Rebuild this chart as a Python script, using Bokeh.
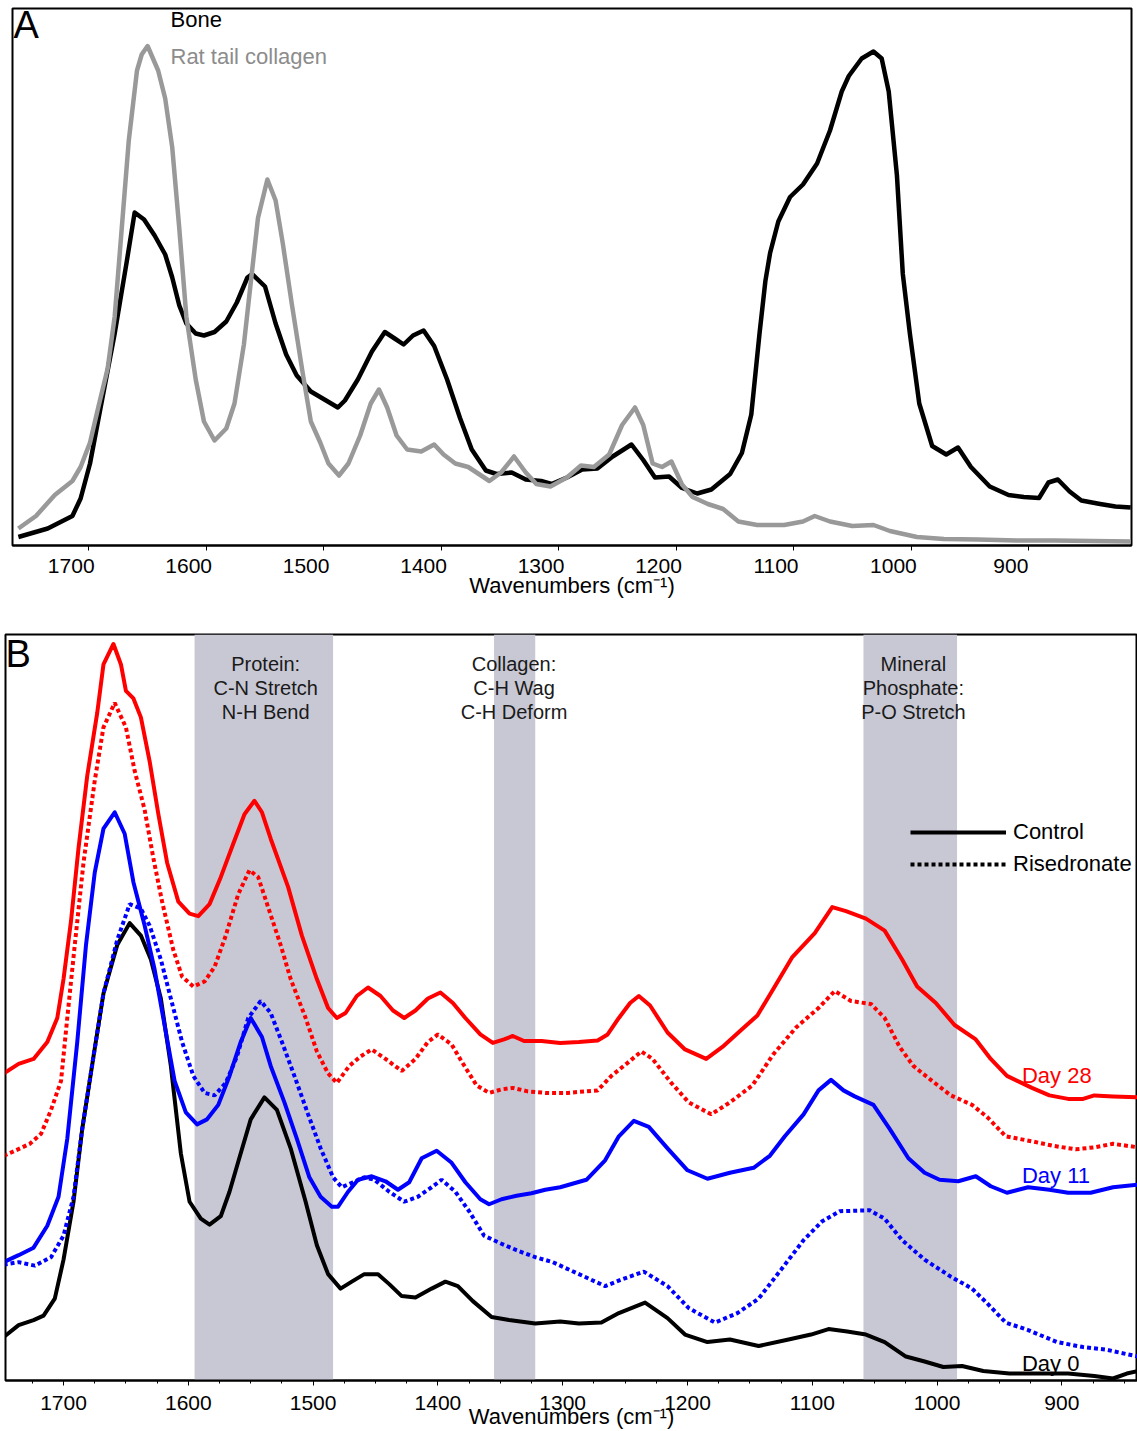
from bokeh.plotting import figure
from bokeh.models import (FixedTicker, LinearAxis, CustomJSTickFormatter, Label, Legend,
                          LegendItem, BoxAnnotation, Range1d)
from bokeh.embed import file_html
from bokeh.resources import INLINE

FONT = "Liberation Sans"

# ---------------- Panel A data (wavenumber, absorbance a.u.) ----------------
wn_bone = [1760, 1735, 1714, 1707, 1699, 1690, 1678, 1668, 1661, 1653, 1644, 1635, 1629, 1623, 1617,
           1609, 1602, 1593, 1583, 1574, 1565, 1561, 1550, 1541, 1532, 1523, 1511, 1498, 1488, 1482,
           1471, 1459, 1448, 1439, 1432, 1424, 1415, 1406, 1395, 1384, 1374, 1362, 1353, 1340, 1328,
           1315, 1306, 1293, 1280, 1267, 1254, 1238, 1228, 1218, 1206, 1195, 1182, 1170, 1154, 1144,
           1136, 1129, 1124, 1120, 1113, 1103, 1092, 1080, 1069, 1059, 1053, 1042, 1032, 1025, 1019,
           1012, 1007, 1001, 993, 982, 970, 960, 949, 933, 917, 904, 891, 883, 875, 865,
           855, 839, 826, 813]
ab_bone = [0.017, 0.034, 0.059, 0.094, 0.164, 0.276, 0.424, 0.564, 0.666, 0.652, 0.620, 0.582, 0.536, 0.480, 0.444,
           0.424, 0.420, 0.427, 0.448, 0.486, 0.536, 0.543, 0.518, 0.444, 0.382, 0.340, 0.308, 0.290, 0.276, 0.290,
           0.332, 0.388, 0.427, 0.413, 0.402, 0.420, 0.430, 0.399, 0.332, 0.255, 0.192, 0.150, 0.143, 0.146, 0.132,
           0.129, 0.123, 0.136, 0.152, 0.154, 0.178, 0.202, 0.171, 0.136, 0.138, 0.115, 0.104, 0.112, 0.143, 0.185,
           0.262, 0.424, 0.529, 0.585, 0.648, 0.697, 0.722, 0.764, 0.830, 0.908, 0.939, 0.974, 0.988, 0.974, 0.908,
           0.740, 0.543, 0.424, 0.284, 0.199, 0.182, 0.196, 0.157, 0.118, 0.101, 0.097, 0.095, 0.126, 0.132, 0.108,
           0.090, 0.083, 0.078, 0.076]

wn_coll = [1760, 1745, 1729, 1714, 1707, 1699, 1692, 1684, 1678, 1672, 1666, 1659, 1655, 1650, 1641,
           1635, 1629, 1623, 1617, 1609, 1602, 1593, 1583, 1576, 1568, 1562, 1556, 1548, 1541, 1535,
           1527, 1518, 1511, 1503, 1496, 1487, 1479, 1469, 1460, 1453, 1446, 1438, 1429, 1417, 1406,
           1398, 1388, 1377, 1368, 1359, 1349, 1338, 1328, 1319, 1307, 1293, 1281, 1270, 1257, 1246,
           1235, 1228, 1220, 1212, 1204, 1195, 1186, 1173, 1160, 1147, 1131, 1108, 1092, 1082, 1069,
           1050, 1032, 1018, 995, 972, 943, 910, 878, 813]
ab_coll = [0.034, 0.059, 0.101, 0.129, 0.157, 0.206, 0.276, 0.354, 0.458, 0.634, 0.810, 0.950, 0.982, 0.999, 0.950,
           0.894, 0.796, 0.634, 0.458, 0.332, 0.248, 0.210, 0.234, 0.284, 0.402, 0.529, 0.655, 0.732, 0.690, 0.606,
           0.480, 0.346, 0.248, 0.206, 0.164, 0.140, 0.164, 0.220, 0.284, 0.312, 0.276, 0.220, 0.192, 0.188, 0.202,
           0.182, 0.164, 0.157, 0.143, 0.129, 0.146, 0.178, 0.146, 0.123, 0.118, 0.136, 0.160, 0.157, 0.182, 0.241,
           0.276, 0.241, 0.164, 0.157, 0.168, 0.122, 0.097, 0.083, 0.073, 0.048, 0.041, 0.041, 0.048, 0.059, 0.048,
           0.039, 0.041, 0.029, 0.017, 0.013, 0.012, 0.010, 0.010, 0.008]

# ---------------- Panel B data ----------------
wn_d28_ctl = [1748, 1736, 1724, 1713, 1705, 1700, 1694, 1688, 1681, 1673, 1668, 1660, 1654, 1650, 1644,
              1638, 1631, 1624, 1617, 1608, 1599, 1592, 1583, 1574, 1564, 1555, 1547, 1541, 1534, 1520,
              1509, 1497, 1488, 1481, 1474, 1465, 1456, 1446, 1436, 1427, 1418, 1408, 1398, 1388, 1378,
              1366, 1356, 1347, 1340, 1331, 1317, 1302, 1287, 1272, 1264, 1255, 1246, 1239, 1230, 1216,
              1202, 1185, 1172, 1157, 1144, 1131, 1116, 1098, 1084, 1073, 1057, 1042, 1028, 1016, 1001,
              986, 969, 957, 944, 924, 910, 895, 883, 874, 859, 839]
ab_d28_ctl = [0.619, 0.638, 0.648, 0.682, 0.730, 0.808, 0.924, 1.070, 1.215, 1.341, 1.438, 1.479, 1.438, 1.385, 1.370,
              1.332, 1.244, 1.138, 1.041, 0.963, 0.939, 0.934, 0.958, 1.012, 1.079, 1.138, 1.165, 1.142, 1.089, 0.992,
              0.895, 0.808, 0.750, 0.730, 0.740, 0.774, 0.791, 0.774, 0.745, 0.730, 0.745, 0.769, 0.781, 0.760, 0.730,
              0.697, 0.680, 0.687, 0.694, 0.684, 0.684, 0.680, 0.682, 0.685, 0.697, 0.730, 0.760, 0.774, 0.755, 0.701,
              0.667, 0.648, 0.672, 0.706, 0.735, 0.789, 0.852, 0.900, 0.952, 0.944, 0.929, 0.905, 0.847, 0.793, 0.760,
              0.716, 0.687, 0.648, 0.614, 0.590, 0.575, 0.568, 0.568, 0.575, 0.573, 0.571]

wn_d28_ris = [1748, 1739, 1727, 1718, 1710, 1702, 1697, 1691, 1684, 1675, 1668, 1659, 1650, 1643, 1635,
              1628, 1621, 1612, 1605, 1596, 1587, 1579, 1570, 1560, 1551, 1544, 1535, 1526, 1518, 1506,
              1497, 1488, 1481, 1471, 1462, 1453, 1442, 1429, 1418, 1408, 1400, 1389, 1381, 1369, 1359,
              1349, 1340, 1328, 1314, 1296, 1287, 1272, 1261, 1249, 1237, 1228, 1213, 1199, 1181, 1166,
              1148, 1131, 1113, 1095, 1082, 1069, 1053, 1042, 1030, 1019, 1004, 989, 972, 960, 945,
              924, 907, 889, 874, 859, 839]
ab_d28_ris = [0.454, 0.464, 0.478, 0.498, 0.546, 0.604, 0.730, 0.876, 1.041, 1.205, 1.312, 1.361, 1.312, 1.225, 1.147,
              1.050, 0.963, 0.866, 0.813, 0.793, 0.803, 0.832, 0.895, 0.978, 1.026, 1.012, 0.944, 0.876, 0.808, 0.730,
              0.663, 0.619, 0.600, 0.634, 0.653, 0.667, 0.648, 0.624, 0.648, 0.682, 0.697, 0.677, 0.643, 0.595, 0.580,
              0.587, 0.590, 0.583, 0.580, 0.580, 0.582, 0.585, 0.614, 0.638, 0.663, 0.648, 0.600, 0.561, 0.537, 0.561,
              0.595, 0.658, 0.711, 0.750, 0.784, 0.764, 0.758, 0.730, 0.672, 0.634, 0.604, 0.575, 0.556, 0.532, 0.493,
              0.483, 0.474, 0.467, 0.471, 0.478, 0.471]

wn_d11_ctl = [1748, 1736, 1724, 1713, 1704, 1697, 1689, 1682, 1675, 1668, 1659, 1651, 1644, 1635, 1627,
              1618, 1611, 1602, 1593, 1585, 1576, 1567, 1558, 1550, 1541, 1534, 1523, 1513, 1503, 1494,
              1485, 1480, 1472, 1464, 1453, 1442, 1432, 1423, 1413, 1401, 1389, 1378, 1366, 1359, 1349,
              1337, 1325, 1314, 1302, 1281, 1266, 1255, 1243, 1231, 1216, 1200, 1184, 1166, 1147, 1134,
              1122, 1107, 1095, 1085, 1075, 1066, 1051, 1038, 1023, 1010, 998, 983, 969, 957, 944,
              927, 910, 895, 877, 859, 839]
ab_d11_ctl = [0.241, 0.255, 0.270, 0.314, 0.372, 0.488, 0.682, 0.876, 1.021, 1.109, 1.142, 1.099, 1.002, 0.915, 0.827,
              0.701, 0.604, 0.541, 0.517, 0.527, 0.556, 0.614, 0.682, 0.730, 0.692, 0.634, 0.561, 0.488, 0.411, 0.372,
              0.352, 0.352, 0.382, 0.406, 0.413, 0.403, 0.386, 0.401, 0.449, 0.464, 0.440, 0.401, 0.367, 0.357, 0.367,
              0.374, 0.379, 0.386, 0.391, 0.406, 0.445, 0.493, 0.524, 0.512, 0.469, 0.425, 0.408, 0.420, 0.430, 0.454,
              0.493, 0.537, 0.585, 0.606, 0.585, 0.573, 0.556, 0.508, 0.449, 0.420, 0.406, 0.403, 0.413, 0.393, 0.380,
              0.391, 0.386, 0.380, 0.380, 0.391, 0.396]

wn_d11_ris = [1748, 1736, 1723, 1710, 1700, 1692, 1685, 1676, 1668, 1657, 1647, 1638, 1631, 1622, 1614,
              1605, 1596, 1587, 1579, 1570, 1561, 1552, 1542, 1534, 1525, 1515, 1504, 1494, 1484, 1477,
              1468, 1459, 1451, 1439, 1427, 1416, 1405, 1397, 1386, 1375, 1363, 1351, 1337, 1322, 1308,
              1287, 1266, 1252, 1235, 1216, 1199, 1178, 1160, 1143, 1125, 1107, 1092, 1078, 1054, 1042,
              1028, 1010, 989, 972, 960, 945, 927, 904, 883, 865, 839]
ab_d11_ris = [0.236, 0.241, 0.234, 0.251, 0.294, 0.372, 0.508, 0.653, 0.779, 0.886, 0.958, 0.949, 0.915, 0.847, 0.769,
              0.682, 0.614, 0.580, 0.575, 0.600, 0.653, 0.730, 0.764, 0.740, 0.682, 0.614, 0.537, 0.469, 0.411, 0.391,
              0.401, 0.411, 0.406, 0.382, 0.362, 0.372, 0.391, 0.406, 0.382, 0.343, 0.294, 0.280, 0.265, 0.251, 0.241,
              0.217, 0.193, 0.207, 0.222, 0.193, 0.149, 0.120, 0.139, 0.168, 0.226, 0.285, 0.323, 0.343, 0.345, 0.328,
              0.285, 0.246, 0.212, 0.188, 0.159, 0.120, 0.105, 0.081, 0.071, 0.066, 0.052]

wn_d0_ctl = [1748, 1736, 1724, 1716, 1707, 1700, 1692, 1685, 1676, 1668, 1657, 1647, 1638, 1630, 1622,
             1614, 1606, 1599, 1590, 1583, 1574, 1567, 1558, 1550, 1539, 1529, 1518, 1506, 1497, 1488,
             1478, 1469, 1459, 1448, 1439, 1429, 1418, 1405, 1394, 1384, 1372, 1357, 1343, 1322, 1302,
             1287, 1269, 1255, 1234, 1216, 1202, 1184, 1166, 1143, 1119, 1101, 1087, 1072, 1057, 1042,
             1025, 1010, 995, 980, 963, 942, 921, 895, 874, 859, 848, 839]
ab_d0_ctl = [0.091, 0.115, 0.125, 0.134, 0.168, 0.246, 0.362, 0.508, 0.653, 0.779, 0.876, 0.920, 0.895, 0.847, 0.769,
             0.634, 0.459, 0.362, 0.328, 0.316, 0.333, 0.382, 0.459, 0.527, 0.571, 0.546, 0.469, 0.362, 0.275, 0.217,
             0.188, 0.202, 0.217, 0.217, 0.197, 0.173, 0.170, 0.188, 0.202, 0.193, 0.163, 0.131, 0.125, 0.118, 0.122,
             0.118, 0.120, 0.139, 0.160, 0.129, 0.096, 0.081, 0.086, 0.073, 0.086, 0.096, 0.107, 0.102, 0.096, 0.081,
             0.052, 0.042, 0.031, 0.033, 0.023, 0.018, 0.018, 0.018, 0.013, 0.008, 0.018, 0.023]

band_left = [1595, 1355, 1059]
band_right = [1484, 1322, 984]
band_center = [1538, 1339, 1019]
band_texts = [["Protein:", "C-N Stretch", "N-H Bend"],
              ["Collagen:", "C-H Wag", "C-H Deform"],
              ["Mineral", "Phosphate:", "P-O Stretch"]]
day_labels = ["Day 28", "Day 11", "Day 0"]
day_label_y = [0.614, 0.414, 0.038]
day_colors = ["red", "blue", "black"]
major_ticks = [1700, 1600, 1500, 1400, 1300, 1200, 1100, 1000, 900]
minor_ticks_b = [v for v in range(1725, 849, -25) if v % 100 != 0]
XTITLE = "Wavenumbers (cm\u207b\u00b9)"

# ====================== Panel A ======================
pa = figure(width=1137, height=600, x_range=Range1d(1765, 812.3), y_range=Range1d(0, 1.074),
            output_backend="svg", toolbar_location=None, y_axis_location=None,
            min_border_left=12, min_border_right=6, min_border_top=8, min_border_bottom=55)
pa.grid.visible = False
pa.outline_line_color = "black"
pa.outline_line_width = 2

ax1 = pa.xaxis[0]
ax1.ticker = FixedTicker(ticks=major_ticks)
ax1.major_tick_out = 5
ax1.major_tick_in = 0
ax1.minor_tick_out = 0
ax1.minor_tick_in = 0
ax1.major_label_text_font_size = "1px"
ax1.major_label_text_color = None
ax1.major_label_standoff = 0
ax1.axis_line_width = 2
ax1.major_tick_line_color = "black"

LABEL_SHIFT = 15
ax2 = LinearAxis(ticker=FixedTicker(ticks=[t + LABEL_SHIFT for t in major_ticks]),
                 formatter=CustomJSTickFormatter(code="return String(Math.round(tick - %d))" % LABEL_SHIFT),
                 major_tick_out=0, major_tick_in=0, minor_tick_out=0, minor_tick_in=0,
                 axis_line_color=None, major_label_standoff=8,
                 major_label_text_font=FONT, major_label_text_font_size="21px",
                 major_label_text_color="black",
                 axis_label=XTITLE, axis_label_text_font=FONT, axis_label_text_font_size="22px",
                 axis_label_text_font_style="normal", axis_label_text_color="black",
                 axis_label_standoff=-3)
pa.add_layout(ax2, "below")

pa.line(wn_bone, ab_bone, line_color="black", line_width=4.5, line_join="round")
pa.line(wn_coll, ab_coll, line_color="#999999", line_width=4.5, line_join="round")

pa.add_layout(Label(x=1, y=521, x_units="screen", y_units="screen", text="A", text_color="black",
                    text_font=FONT, text_font_size="38px", text_baseline="alphabetic"))
pa.add_layout(Label(x=158, y=526, x_units="screen", y_units="screen", text="Bone", text_color="black",
                    text_font=FONT, text_font_size="22px", text_baseline="alphabetic"))
pa.add_layout(Label(x=158, y=489, x_units="screen", y_units="screen", text="Rat tail collagen",
                    text_font=FONT, text_font_size="22px", text_color="#8c8c8c",
                    text_baseline="alphabetic"))

# ====================== Panel B ======================
pb = figure(width=1137, height=831, x_range=Range1d(1746.5, 839.4), y_range=Range1d(0.004, 1.498),
            output_backend="svg", toolbar_location=None, y_axis_location=None,
            min_border_left=5, min_border_right=0, min_border_top=34, min_border_bottom=50)
pb.grid.visible = False
pb.outline_line_color = "black"
pb.outline_line_width = 2

bx = pb.xaxis[0]
bx.ticker = FixedTicker(ticks=major_ticks, minor_ticks=minor_ticks_b)
bx.major_tick_out = 5
bx.major_tick_in = 0
bx.minor_tick_out = 3
bx.minor_tick_in = 0
bx.axis_line_width = 2
bx.major_tick_line_color = "black"
bx.minor_tick_line_color = "black"
bx.major_label_standoff = 10
bx.major_label_text_font = FONT
bx.major_label_text_font_size = "21px"
bx.major_label_text_color = "black"
bx.axis_label = XTITLE
bx.axis_label_text_font = FONT
bx.axis_label_text_font_size = "22px"
bx.axis_label_text_font_style = "normal"
bx.axis_label_text_color = "black"
bx.axis_label_standoff = -9

for l, r in zip(band_left, band_right):
    pb.add_layout(BoxAnnotation(left=l, right=r, fill_color="#c8c8d4", fill_alpha=1.0,
                                line_color=None, level="underlay"))

for cx, lines in zip(band_center, band_texts):
    for i, t in enumerate(lines):
        pb.add_layout(Label(x=cx, y=1.438 - 0.048 * i, text=t, text_font=FONT, text_font_size="20px",
                            text_align="center", text_baseline="alphabetic", text_color="#1a1a1a"))

DOT = "4 3"
pb.line(wn_d0_ctl, ab_d0_ctl, line_color="black", line_width=4, line_join="round")
pb.line(wn_d11_ris, ab_d11_ris, line_color="blue", line_width=4, line_dash=DOT)
pb.line(wn_d11_ctl, ab_d11_ctl, line_color="blue", line_width=4, line_join="round")
pb.line(wn_d28_ris, ab_d28_ris, line_color="red", line_width=4, line_dash=DOT)
pb.line(wn_d28_ctl, ab_d28_ctl, line_color="red", line_width=4, line_join="round")

for txt, yy, col in zip(day_labels, day_label_y, day_colors):
    pb.add_layout(Label(x=932, y=yy, text=txt, text_font=FONT, text_font_size="22px",
                        text_color=col, text_baseline="alphabetic"))

pb.add_layout(Label(x=0, y=727, x_units="screen", y_units="screen", text="B", text_color="black",
                    text_font=FONT, text_font_size="38px", text_baseline="alphabetic"))

nan = float("nan")
r_ctl = pb.line(x=[nan], y=[nan], line_color="black", line_width=4)
r_ris = pb.line(x=[nan], y=[nan], line_color="black", line_width=4, line_dash=DOT)
leg = Legend(items=[LegendItem(label="Control", renderers=[r_ctl]),
                    LegendItem(label="Risedronate", renderers=[r_ris])],
             location=(905, 503), glyph_width=96, glyph_height=24, label_height=24, spacing=6,
             padding=0, margin=0, label_standoff=7, border_line_color=None,
             background_fill_alpha=0, label_text_font=FONT, label_text_font_size="22px",
             label_text_color="black")
pb.add_layout(leg)

open("out.html", "w").write(file_html([pa, pb], INLINE))
